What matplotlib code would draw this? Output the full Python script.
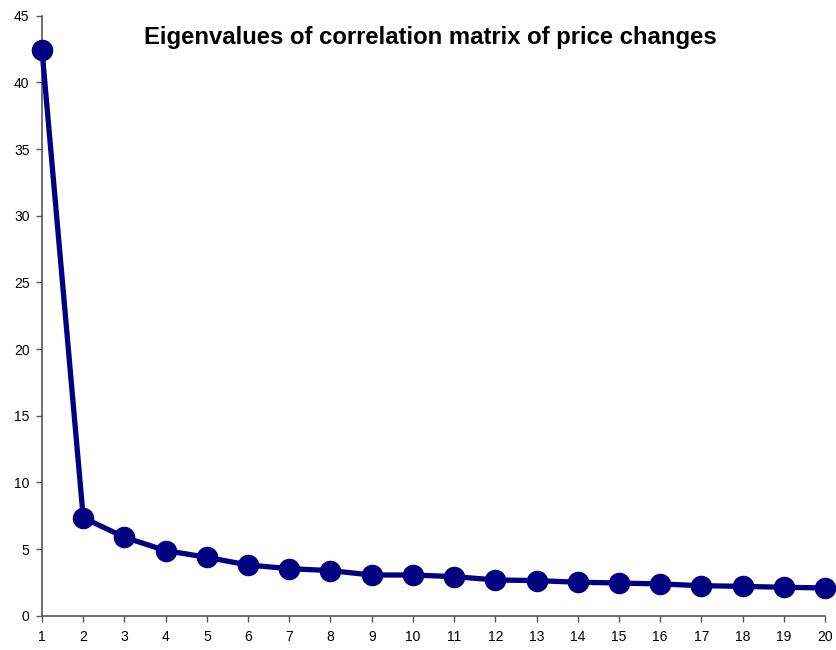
import matplotlib
matplotlib.use("Agg")
import matplotlib.pyplot as plt

plt.rcParams['font.family'] = ['Liberation Sans', 'DejaVu Sans']

components = list(range(1, 21))
eigenvalues = [42.4, 7.35, 5.88, 4.88, 4.38, 3.8, 3.53, 3.38, 3.05, 3.05,
               2.93, 2.68, 2.63, 2.51, 2.45, 2.38, 2.25, 2.2, 2.13, 2.08]
y_ticks = [0, 5, 10, 15, 20, 25, 30, 35, 40, 45]
title = "Eigenvalues of correlation matrix of price changes"

fig = plt.figure(figsize=(8.37, 6.5), dpi=100)
ax = fig.add_axes([0.0502, 0.0528, 0.9355, 0.923])
ax.plot(components, eigenvalues, color='#000080', linewidth=3.8,
        marker='o', markersize=14.5, markerfacecolor='#000080',
        markeredgecolor='#000080', clip_on=False, zorder=3)
ax.set_xlim(1, 20)
ax.set_ylim(0, 45)
ax.set_xticks(components)
ax.set_yticks(y_ticks)
for s in ['top', 'right']:
    ax.spines[s].set_visible(False)
for s in ['left', 'bottom']:
    ax.spines[s].set_color('#555555')
    ax.spines[s].set_linewidth(1.2)
ax.tick_params(axis='both', direction='out', length=4, width=1, color='#555555',
               labelsize=10, labelcolor='black')
ax.tick_params(axis='x', pad=6)
ax.tick_params(axis='y', pad=5)
fig.text(0.514, 0.943, title, ha='center', va='center', fontsize=17.2, fontweight='bold')
fig.savefig('out.png', dpi=100)
